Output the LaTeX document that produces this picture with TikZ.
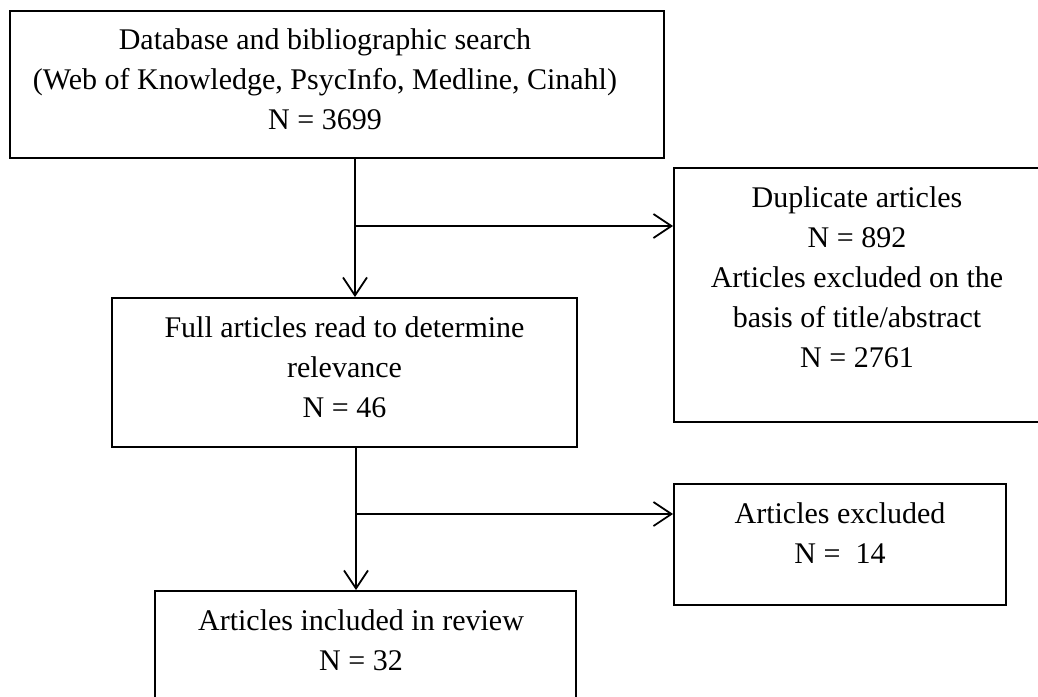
\documentclass[tikz,border=0pt]{standalone}
\usepackage{fontspec}
\setmainfont{Liberation Serif}
\usetikzlibrary{arrows.meta,calc}
\begin{document}
\begin{tikzpicture}[x=1pt,y=-1pt,
  box/.style={draw, line width=1.8pt, inner sep=0pt},
  txt/.style={align=center, font=\fontsize{30}{40}\selectfont, inner sep=0pt, anchor=north},
  conn/.style={line width=1.8pt},
  arr/.style={line width=1.8pt, -{Straight Barb[length=18pt,width=24pt,line width=1.8pt]}}]
\useasboundingbox (0,0) rectangle (1038,696);
\fill[white] (0,0) rectangle (1038,696);
% boxes
\node[box, minimum width=654pt, minimum height=147pt] (b1) at (337,84.5) {};
\node[box, minimum width=366pt, minimum height=254pt] (b2) at (857,295) {};
\node[box, minimum width=465pt, minimum height=149pt] (b3) at (344.5,372.5) {};
\node[box, minimum width=332pt, minimum height=121pt] (b4) at (840,544.5) {};
\node[box, minimum width=421pt, minimum height=109pt] (b5) at (365.5,645.5) {};
% texts
\node[txt] (t1) at (325,28) {Database and bibliographic search\\(Web of Knowledge, PsycInfo, Medline, Cinahl)\\N = 3699};
\node[txt] (t2) at (857,186) {Duplicate articles\\N = 892\\Articles excluded on the\\basis of title/abstract\\N = 2761};
\node[txt] (t3) at (344.5,316) {Full articles read to determine\\relevance\\N = 46};
\node[txt] (t4) at (840,502) {Articles excluded\\N =\ \ 14};
\node[txt] (t5) at (361,609) {Articles included in review\\N = 32};
% connectors
\coordinate (j1) at (355,226);
\coordinate (j2) at (356,514);
\draw[conn] (j1 |- b1.south) -- (j1);
\draw[arr] (j1) -- (j1 |- b3.north);
\draw[arr] (j1) -- (b2.west |- j1);
\draw[conn] (j2 |- b3.south) -- (j2);
\draw[arr] (j2) -- (j2 |- b5.north);
\draw[arr] (j2) -- (b4.west |- j2);
\end{tikzpicture}
\end{document}
